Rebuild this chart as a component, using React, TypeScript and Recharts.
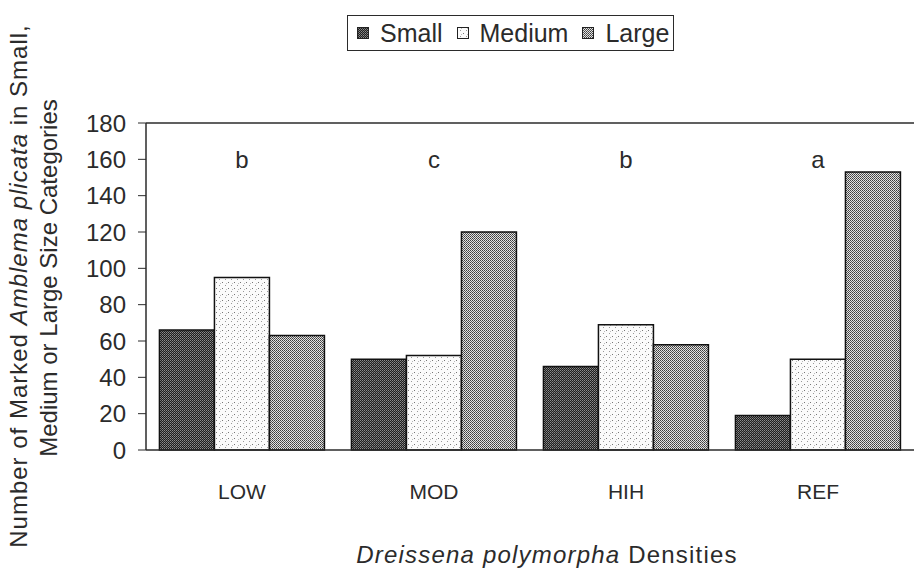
import { BarChart, Bar, XAxis, YAxis, ReferenceLine, ReferenceDot } from 'recharts';

const densities = ['LOW', 'MOD', 'HIH', 'REF'];
const smallCounts = [66, 50, 46, 19];
const mediumCounts = [95, 52, 69, 50];
const largeCounts = [63, 120, 58, 153];
const groupLetters = ['b', 'c', 'b', 'a'];
const yTicks = [0, 20, 40, 60, 80, 100, 120, 140, 160, 180];

const chartData = densities.map((d, i) => ({
  density: d,
  small: smallCounts[i],
  medium: mediumCounts[i],
  large: largeCounts[i],
}));

const seriesInfo = [
  { key: 'small', name: 'Small', fill: 'url(#patSmall)' },
  { key: 'medium', name: 'Medium', fill: 'url(#patMedium)' },
  { key: 'large', name: 'Large', fill: 'url(#patLarge)' },
];

const FONT = '"Liberation Sans", Arial, sans-serif';
const INK = '#2b2b2b';

// hatch textures that imitate the scanned print
function Patterns() {
  return (
    <defs>
      <pattern id="patSmall" width="2" height="2" patternUnits="userSpaceOnUse">
        <rect width="2" height="2" fill="#1e1e1e" />
        <rect x="0" y="0" width="1" height="1" fill="#8c8c8c" />
        <rect x="1" y="1" width="1" height="1" fill="#6a6a6a" />
      </pattern>
      <pattern id="patMedium" width="6" height="6" patternUnits="userSpaceOnUse">
        <rect width="6" height="6" fill="#fbfbfb" />
        <rect x="0" y="0" width="1" height="1" fill="#777" />
        <rect x="3" y="3" width="1" height="1" fill="#999" />
        <rect x="4" y="1" width="1" height="1" fill="#bbb" />
      </pattern>
      <pattern id="patLarge" width="2" height="2" patternUnits="userSpaceOnUse">
        <rect width="2" height="2" fill="#e2e2e2" />
        <rect x="0" y="0" width="1" height="1" fill="#3c3c3c" />
        <rect x="1" y="1" width="1" height="1" fill="#5a5a5a" />
      </pattern>
    </defs>
  );
}

function LegendBox() {
  return (
    <div
      style={{
        position: 'absolute', left: 347, top: 15, height: 36,
        display: 'flex', alignItems: 'center', gap: 14, boxSizing: 'border-box',
        border: `1.5px solid ${INK}`, padding: '0 4px 0 9px',
        fontFamily: FONT, fontSize: 25, color: INK, background: '#fff', whiteSpace: 'nowrap',
      }}
    >
      {seriesInfo.map((s) => (
        <span key={s.key} style={{ display: 'inline-flex', alignItems: 'center', gap: 11 }}>
          <svg width="12" height="12">
            <rect x="0.5" y="0.5" width="11" height="11" fill={s.fill} stroke="#222" />
          </svg>
          {s.name}
        </span>
      ))}
    </div>
  );
}

function YAxisTitle() {
  const cy = 286;
  return (
    <g fill={INK} style={{ fontFamily: FONT, fontSize: 24 }}>
      <text x={21} y={cy} transform={`rotate(-90, 21, ${cy})`} textAnchor="middle" dominantBaseline="middle" letterSpacing={1}>
        Number of Marked <tspan fontStyle="italic">Amblema plicata</tspan> in Small,
      </text>
      <text x={51} y={cy - 8} transform={`rotate(-90, 51, ${cy - 8})`} textAnchor="middle" dominantBaseline="middle">
        Medium or Large Size Categories
      </text>
    </g>
  );
}

function XAxisTitle() {
  return (
    <text x={547} y={563} textAnchor="middle" fill={INK} letterSpacing={1.2} style={{ fontFamily: FONT, fontSize: 24 }}>
      <tspan fontStyle="italic">Dreissena polymorpha</tspan> Densities
    </text>
  );
}

export default function App() {
  return (
    <div style={{ position: 'relative', width: 915, height: 571, background: '#fff' }}>
      <style>{'body{margin:0}'}</style>
      <BarChart
        width={915}
        height={571}
        data={chartData}
        margin={{ top: 123, right: 1, bottom: 91, left: 0 }}
        barCategoryGap="7%"
        barGap={0}
      >
        <Patterns />
        <XAxis
          dataKey="density"
          height={30}
          tickLine={false}
          tickMargin={28}
          axisLine={{ stroke: INK, strokeWidth: 1.5 }}
          tick={{ fill: INK, fontSize: 21, fontFamily: FONT }}
          label={{ content: () => <XAxisTitle /> }}
        />
        <YAxis
          width={146}
          domain={[0, 180]}
          ticks={yTicks}
          interval={0}
          tickSize={8}
          tickMargin={12}
          axisLine={{ stroke: INK, strokeWidth: 1.5 }}
          tickLine={{ stroke: INK }}
          tick={{ fill: INK, fontSize: 24, fontFamily: FONT }}
          label={{ content: () => <YAxisTitle /> }}
        />
        <ReferenceLine y={180} stroke={INK} strokeWidth={1.5} />
        {seriesInfo.map((s) => (
          <Bar
            key={s.key}
            dataKey={s.key}
            name={s.name}
            fill={s.fill}
            stroke="#111"
            strokeWidth={1.5}
            isAnimationActive={false}
          />
        ))}
        {densities.map((d, i) => (
          <ReferenceDot
            key={d}
            x={d}
            y={160}
            r={0}
            fill="none"
            stroke="none"
            label={{ value: groupLetters[i], position: 'center', fill: INK, fontSize: 24, fontFamily: FONT }}
          />
        ))}
      </BarChart>
      <LegendBox />
    </div>
  );
}
